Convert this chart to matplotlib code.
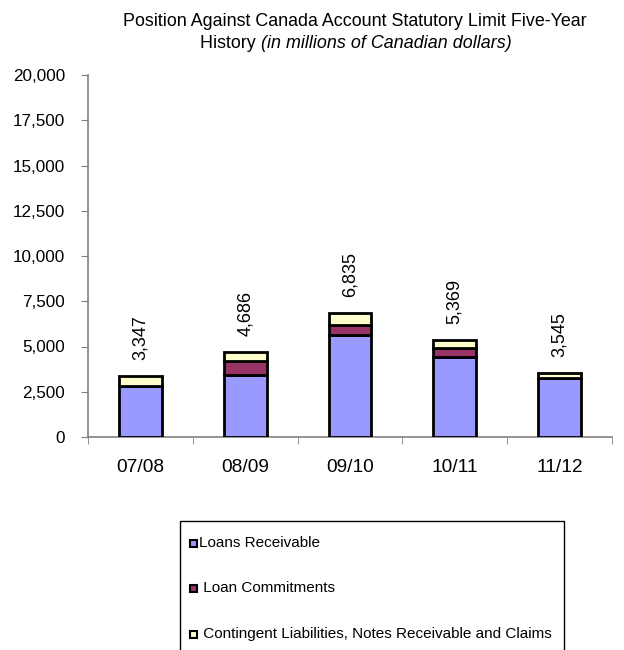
import matplotlib
matplotlib.use("Agg")
import matplotlib.pyplot as plt
from matplotlib.patches import Rectangle
import numpy as np

plt.rcParams['font.family'] = ['Liberation Sans', 'DejaVu Sans']

categories = ["07/08", "08/09", "09/10", "10/11", "11/12"]
loans_receivable = [2825, 3435, 5634, 4432, 3235]
loan_commitments = [0, 760, 571, 499, 0]
contingent = [522, 491, 630, 438, 310]
totals = [3347, 4686, 6835, 5369, 3545]
series_names = ["Loans Receivable", " Loan Commitments",
                " Contingent Liabilities, Notes Receivable and Claims"]
colors = ["#9999FF", "#993366", "#FFFFCC"]
yticks = [0, 2500, 5000, 7500, 10000, 12500, 15000, 17500, 20000]

W, H = 624, 650
fig = plt.figure(figsize=(W / 100, H / 100), dpi=100)
r = fig.canvas.get_renderer()


def fit_size(s, target_px, style="normal"):
    t = fig.text(0, 0, s, fontsize=10, style=style)
    w = t.get_window_extent(r).width
    t.remove()
    return 10 * target_px / w


fs_y = fit_size("20,000", 52.5)
fs_x = fit_size("07/08", 48)
fs_val = fit_size("6,835", 45)
fs_leg = fit_size("Contingent Liabilities, Notes Receivable and Claims", 351)
fs_title = fit_size("Position Against Canada Account Statutory Limit Five-Year", 466)

ax = fig.add_axes([88 / W, 1 - 437 / H, (612 - 88) / W, (437 - 75) / H])

x = np.arange(len(categories))
bw = 0.41
bottom = np.zeros(len(categories))
for vals, c in zip([loans_receivable, loan_commitments, contingent], colors):
    ax.bar(x, vals, bw, bottom=bottom, color=c, edgecolor="black", linewidth=2, zorder=3)
    bottom += np.array(vals)

for xi, t in zip(x, totals):
    ax.annotate(f"{t:,}", (xi, t), xytext=(0, 11.5), textcoords="offset points",
                rotation=90, ha="center", va="bottom", fontsize=fs_val)

ax.set_xlim(-0.5, len(categories) - 0.5)
ax.set_ylim(0, 20000)
ax.set_yticks(yticks)
ax.set_yticklabels([f"{v:,}" for v in yticks], fontsize=fs_y)
ax.set_xticks(x)
ax.set_xticklabels(categories, fontsize=fs_x)
ax.tick_params(axis="x", length=0, pad=16)
ax.set_xticks(np.arange(-0.5, len(categories)), minor=True)
ax.tick_params(axis="x", which="minor", length=5, color="#808080", direction="out")
ax.tick_params(axis="y", length=5, color="#808080", direction="out", pad=11.5)
for s in ["top", "right"]:
    ax.spines[s].set_visible(False)
for s in ["left", "bottom"]:
    ax.spines[s].set_color("#808080")
    ax.spines[s].set_linewidth(1.2)

fig.text(355 / W, 1 - 22 / H, "Position Against Canada Account Statutory Limit Five-Year",
         ha="center", va="center", fontsize=fs_title)
t1 = fig.text(0, 1 - 43 / H, "History ", ha="left", va="center", fontsize=fs_title)
t2 = fig.text(0, 1 - 43 / H, "(in millions of Canadian dollars)", ha="left", va="center",
              fontsize=fs_title, style="italic")
w1 = t1.get_window_extent(r).width
w2 = t2.get_window_extent(r).width
start = 356 - (w1 + w2) / 2
t1.set_x(start / W)
t2.set_x((start + w1) / W)

# legend
fig.patches.append(Rectangle((180 / W, -0.05), (564 - 180) / W, (1 - 521 / H) + 0.05,
                             transform=fig.transFigure, fill=False,
                             edgecolor="black", linewidth=1))
row_y = [543, 588, 634]
for name, c, yy in zip(series_names, colors, row_y):
    fig.patches.append(Rectangle((190 / W, 1 - (yy + 3.5) / H), 7 / W, 7 / H,
                                 transform=fig.transFigure, facecolor=c,
                                 edgecolor="black", linewidth=1.5))
    fig.text(199 / W, 1 - yy / H, name, ha="left", va="center", fontsize=fs_leg)

fig.savefig("out.png", dpi=100)
